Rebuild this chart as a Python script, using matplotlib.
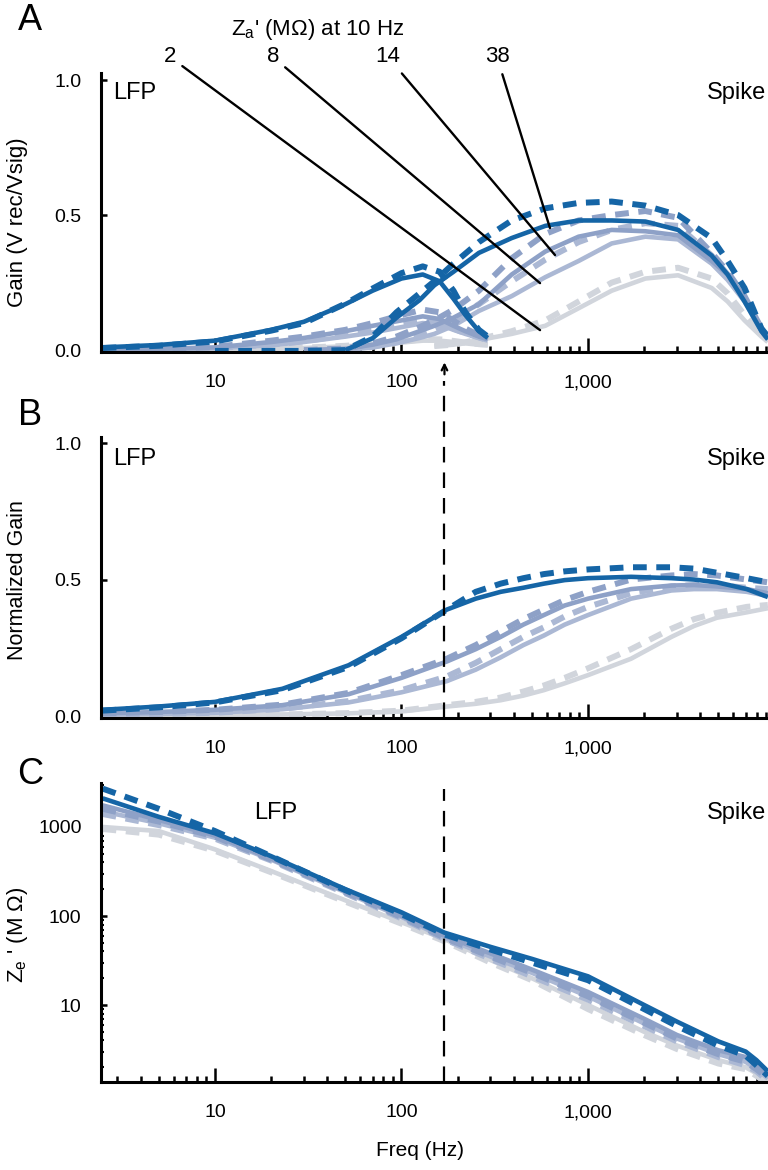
import numpy as np
import matplotlib
matplotlib.use("Agg")
import matplotlib.pyplot as plt
from matplotlib.ticker import LogLocator, FixedLocator, FixedFormatter, NullFormatter

plt.rcParams['font.family'] = ['Liberation Sans', 'DejaVu Sans']
plt.rcParams['mathtext.fontset'] = 'custom'
plt.rcParams['mathtext.rm'] = 'Liberation Sans'
plt.rcParams['mathtext.it'] = 'Liberation Sans'

nan = np.nan

# impedance labels (MOhm at 10 Hz), from dark to light
z_labels = ['38', '14', '8', '2']
colors = ['#1565a6', '#8ea1c7', '#abb8d4', '#d1d5dc']

# ---- panel A: gain, LFP band
a_lfp_freq = [2.5, 5, 10, 20, 30, 50, 70, 100, 130, 160, 190, 220, 260, 290]
a_lfp_solid = [
    [0.01, 0.019, 0.035, 0.075, 0.105, 0.17, 0.22, 0.265, 0.28, 0.255, 0.19, 0.13, 0.07, 0.045],
    [0.002, 0.005, 0.01, 0.03, 0.045, 0.07, 0.09, 0.11, 0.125, 0.115, 0.09, 0.07, 0.05, 0.04],
    [0.001, 0.003, 0.007, 0.018, 0.03, 0.05, 0.065, 0.085, 0.10, 0.095, 0.075, 0.06, 0.045, 0.035],
    [0.0, 0.001, 0.002, 0.005, 0.008, 0.014, 0.02, 0.028, 0.035, 0.035, 0.03, 0.025, 0.02, 0.018],
]
a_lfp_dash = [
    [0.008, 0.016, 0.032, 0.072, 0.10, 0.172, 0.228, 0.285, 0.31, 0.29, 0.22, 0.14, 0.075, 0.05],
    [0.002, 0.005, 0.012, 0.035, 0.05, 0.075, 0.10, 0.13, 0.15, 0.14, 0.11, 0.08, 0.055, 0.045],
    [0.001, 0.003, 0.008, 0.02, 0.033, 0.055, 0.072, 0.095, 0.11, 0.10, 0.08, 0.062, 0.047, 0.037],
    [0.0, 0.001, 0.002, 0.006, 0.009, 0.016, 0.023, 0.032, 0.04, 0.04, 0.034, 0.028, 0.022, 0.02],
]

# ---- panel A: gain, spike band
a_spk_freq = [10, 30, 50, 70, 94, 125, 150, 190, 260, 390, 590, 890, 1340, 2030, 3040, 4600, 5600, 6900, 8500, 9200]
a_spk_solid = [
    [nan, nan, 0.0, 0.044, 0.12, 0.185, 0.24, 0.29, 0.36, 0.415, 0.46, 0.48, 0.48, 0.476, 0.445, 0.35, 0.28, 0.18, 0.07, 0.04],
    [nan, 0.0, 0.005, 0.02, 0.04, 0.07, 0.09, 0.12, 0.17, 0.28, 0.365, 0.42, 0.445, 0.44, 0.425, 0.33, 0.28, 0.20, 0.07, 0.04],
    [nan, nan, 0.0, 0.01, 0.025, 0.045, 0.06, 0.09, 0.145, 0.20, 0.27, 0.33, 0.395, 0.42, 0.41, 0.32, 0.26, 0.18, 0.07, 0.04],
    [nan, nan, nan, nan, nan, nan, 0.015, 0.02, 0.037, 0.06, 0.09, 0.155, 0.22, 0.265, 0.277, 0.23, 0.18, 0.11, 0.05, 0.03],
]
a_spk_dash = [
    [-0.003, -0.003, 0.0, 0.05, 0.14, 0.21, 0.255, 0.32, 0.40, 0.48, 0.525, 0.545, 0.55, 0.535, 0.50, 0.415, 0.33, 0.23, 0.08, 0.05],
    [nan, 0.0, 0.006, 0.025, 0.05, 0.085, 0.11, 0.15, 0.22, 0.34, 0.43, 0.48, 0.50, 0.515, 0.49, 0.36, 0.29, 0.20, 0.08, 0.05],
    [nan, nan, 0.0, 0.012, 0.03, 0.055, 0.075, 0.11, 0.17, 0.255, 0.335, 0.40, 0.445, 0.47, 0.46, 0.35, 0.28, 0.19, 0.08, 0.05],
    [nan, nan, nan, nan, nan, nan, 0.015, 0.02, 0.04, 0.07, 0.11, 0.18, 0.25, 0.29, 0.305, 0.265, 0.21, 0.13, 0.06, 0.035],
]

# ---- panel B: normalized gain
b_freq = [2.5, 5, 10, 23, 52, 100, 175, 250, 340, 450, 580, 750, 1000, 1700, 2800, 3700, 4900, 7100, 9200]
b_solid = [
    [0.023, 0.035, 0.052, 0.10, 0.186, 0.29, 0.39, 0.43, 0.455, 0.47, 0.485, 0.498, 0.505, 0.51, 0.505, 0.50, 0.49, 0.465, 0.436],
    [0.01, 0.015, 0.023, 0.04, 0.08, 0.14, 0.20, 0.245, 0.29, 0.335, 0.37, 0.405, 0.43, 0.465, 0.478, 0.48, 0.475, 0.465, 0.45],
    [0.005, 0.008, 0.012, 0.025, 0.05, 0.087, 0.128, 0.17, 0.215, 0.26, 0.295, 0.335, 0.37, 0.43, 0.46, 0.465, 0.465, 0.455, 0.44],
    [0.002, 0.003, 0.004, 0.006, 0.01, 0.017, 0.035, 0.045, 0.058, 0.075, 0.095, 0.12, 0.15, 0.21, 0.29, 0.33, 0.36, 0.38, 0.395],
]
b_dash = [
    [0.02, 0.032, 0.05, 0.095, 0.18, 0.285, 0.39, 0.455, 0.485, 0.505, 0.52, 0.53, 0.537, 0.545, 0.545, 0.54, 0.525, 0.505, 0.49],
    [0.01, 0.015, 0.023, 0.042, 0.085, 0.15, 0.21, 0.26, 0.31, 0.355, 0.39, 0.425, 0.455, 0.50, 0.515, 0.52, 0.515, 0.50, 0.49],
    [0.005, 0.008, 0.012, 0.027, 0.055, 0.095, 0.145, 0.195, 0.245, 0.29, 0.325, 0.365, 0.40, 0.45, 0.475, 0.48, 0.48, 0.47, 0.465],
    [0.002, 0.003, 0.004, 0.006, 0.011, 0.02, 0.04, 0.052, 0.068, 0.09, 0.112, 0.14, 0.175, 0.245, 0.32, 0.355, 0.378, 0.40, 0.407],
]

# ---- panel C: electrode impedance Ze' (MOhm)
c_freq = [2.5, 5, 10, 20, 50, 100, 170, 300, 500, 1000, 2000, 3000, 5000, 7000, 8000, 9200]
c_solid = [
    [2100, 1300, 850, 470, 200, 110, 65, 45, 33, 21, 10, 6.5, 3.9, 3.0, 2.4, 1.8],
    [1750, 1200, 800, 440, 190, 100, 60, 38, 25, 14, 7.0, 4.6, 3.1, 2.6, 2.1, 1.6],
    [1500, 1100, 760, 430, 185, 97, 57, 35, 23, 12.5, 6.2, 4.2, 2.8, 2.3, 1.9, 1.5],
    [1000, 900, 560, 320, 150, 85, 55, 32, 20, 10, 5.0, 3.5, 2.4, 2.0, 1.7, 1.4],
]
c_dash = [
    [2700, 1600, 900, 470, 195, 105, 62, 42, 30, 19, 9.0, 5.8, 3.5, 2.7, 2.1, 1.6],
    [1600, 1150, 780, 430, 185, 97, 57, 35, 23, 12.5, 6.3, 4.2, 2.8, 2.3, 1.9, 1.5],
    [1400, 1050, 740, 420, 180, 94, 55, 33, 21, 11.5, 5.8, 3.9, 2.6, 2.1, 1.8, 1.4],
    [950, 820, 540, 310, 145, 82, 52, 30, 19, 9.0, 4.6, 3.2, 2.2, 1.9, 1.6, 1.3],
]

cut_freq = 170
pointer_ends = [(625, 0.452), (665, 0.352), (553, 0.248), (553, 0.074)]
pointer_text_px = [(497, 1113), (388, 1113), (273, 1113), (170, 1113)]

solid_lw = 3.3
dash_lw = 4.3
dash_style = (0, (2.3, 1.6))

fig = plt.figure(figsize=(7.68, 11.7), dpi=100)
W, H = 768.0, 1170.0
ax_a = fig.add_axes([101 / W, 1 - 352 / H, 667 / W, 279 / H])
ax_b = fig.add_axes([101 / W, 1 - 718 / H, 667 / W, 281 / H])
ax_c = fig.add_axes([101 / W, 1 - 1082 / H, 667 / W, 299 / H])


def style_axis(ax):
    ax.set_xscale('log')
    ax.set_xlim(2.45, 9220)
    for side in ['top', 'right']:
        ax.spines[side].set_visible(False)
    for side in ['left', 'bottom']:
        ax.spines[side].set_linewidth(2.2)
    ax.xaxis.set_major_locator(FixedLocator([10, 100, 1000]))
    ax.xaxis.set_major_formatter(FixedFormatter(['10', '100', '1,000']))
    ax.xaxis.set_minor_locator(LogLocator(base=10, subs=np.arange(2, 10), numticks=20))
    ax.xaxis.set_minor_formatter(NullFormatter())
    ax.tick_params(axis='x', which='major', direction='in', length=10, width=1.8, pad=16, labelsize=14)
    ax.tick_params(axis='x', which='minor', direction='in', length=4.5, width=1.8)
    ax.tick_params(axis='y', which='major', direction='in', length=4, width=1.8, pad=14, labelsize=14)
    ax.tick_params(axis='y', which='minor', direction='in', length=2.5, width=1.5)


for ax in (ax_a, ax_b, ax_c):
    style_axis(ax)

# panel A
for i in range(3, -1, -1):
    ax_a.plot(a_lfp_freq, a_lfp_solid[i], color=colors[i], lw=solid_lw, solid_capstyle='butt')
    ax_a.plot(a_lfp_freq, a_lfp_dash[i], color=colors[i], lw=dash_lw, ls=dash_style)
    ax_a.plot(a_spk_freq, a_spk_solid[i], color=colors[i], lw=solid_lw, solid_capstyle='butt')
    ax_a.plot(a_spk_freq, a_spk_dash[i], color=colors[i], lw=dash_lw, ls=dash_style)
ax_a.set_ylim(-0.007, 1.026)
ax_a.set_yticks([0, 0.5, 1.0])
ax_a.set_yticklabels(['0.0', '0.5', '1.0'])
ax_a.text(0.018, 0.93, 'LFP', transform=ax_a.transAxes, fontsize=17, ha='left', va='center')
ax_a.text(0.997, 0.93, 'Spike', transform=ax_a.transAxes, fontsize=17, ha='right', va='center')
ax_a.annotate('', xy=(cut_freq, -0.035), xytext=(cut_freq, -0.1),
              arrowprops=dict(arrowstyle='->,head_length=0.4,head_width=0.2', lw=1.6, color='black'),
              annotation_clip=False)
for lab, end, tpos in zip(z_labels, pointer_ends, pointer_text_px):
    ax_a.annotate(lab, xy=end, xytext=tpos, textcoords='figure pixels', fontsize=16,
                  ha='center', va='center',
                  arrowprops=dict(arrowstyle='-', lw=1.7, color='black', shrinkA=3, shrinkB=0),
                  annotation_clip=False)
fig.text(318 / W, 1 - 30 / H, "Z$_\\mathregular{a}$' (M\u03a9) at 10 Hz", fontsize=16, ha='center', va='center')

# panel B
for i in range(3, -1, -1):
    ax_b.plot(b_freq, b_solid[i], color=colors[i], lw=solid_lw, solid_capstyle='butt')
    ax_b.plot(b_freq, b_dash[i], color=colors[i], lw=dash_lw, ls=dash_style)
ax_b.set_ylim(-0.007, 1.022)
ax_b.set_yticks([0, 0.5, 1.0])
ax_b.set_yticklabels(['0.0', '0.5', '1.0'])
ax_b.text(0.018, 0.92, 'LFP', transform=ax_b.transAxes, fontsize=17, ha='left', va='center')
ax_b.text(0.997, 0.92, 'Spike', transform=ax_b.transAxes, fontsize=17, ha='right', va='center')
ax_b.axvline(cut_freq, ymin=0, ymax=1.2, color='black', lw=1.6, ls=(0, (7, 4.5)), clip_on=False, zorder=5)

# panel C
ax_c.set_yscale('log')
for i in range(3, -1, -1):
    ax_c.plot(c_freq, c_solid[i], color=colors[i], lw=solid_lw, solid_capstyle='butt')
    ax_c.plot(c_freq, c_dash[i], color=colors[i], lw=dash_lw, ls=dash_style)
ax_c.set_ylim(1.365, 3120)
ax_c.yaxis.set_major_locator(FixedLocator([10, 100, 1000]))
ax_c.yaxis.set_major_formatter(FixedFormatter(['10', '100', '1000']))
ax_c.yaxis.set_minor_locator(LogLocator(base=10, subs=np.arange(2, 10), numticks=20))
ax_c.yaxis.set_minor_formatter(NullFormatter())
ax_c.text(0.23, 0.9, 'LFP', transform=ax_c.transAxes, fontsize=17, ha='left', va='center')
ax_c.text(0.997, 0.9, 'Spike', transform=ax_c.transAxes, fontsize=17, ha='right', va='center')
ax_c.axvline(cut_freq, ymin=0, ymax=0.98, color='black', lw=1.6, ls=(0, (7, 4.5)), zorder=5)

# axis labels and panel letters
fig.text(18 / W, 1 - 222 / H, 'Gain (V rec/Vsig)', rotation=90, fontsize=16, ha='center', va='center')
fig.text(18 / W, 1 - 580 / H, 'Normalized Gain', rotation=90, fontsize=15.5, ha='center', va='center')
fig.text(18 / W, 1 - 935 / H, "Z$_\\mathregular{e}$ ' (M \u03a9)", rotation=90, fontsize=16, ha='center', va='center')
fig.text(420 / W, 1 - 1150 / H, 'Freq (Hz)', fontsize=15, ha='center', va='center')
for letter, ypx in [('A', 20), ('B', 415), ('C', 775)]:
    fig.text(30 / W, 1 - ypx / H, letter, fontsize=26, ha='center', va='center')

fig.savefig('out.png', dpi=100)
